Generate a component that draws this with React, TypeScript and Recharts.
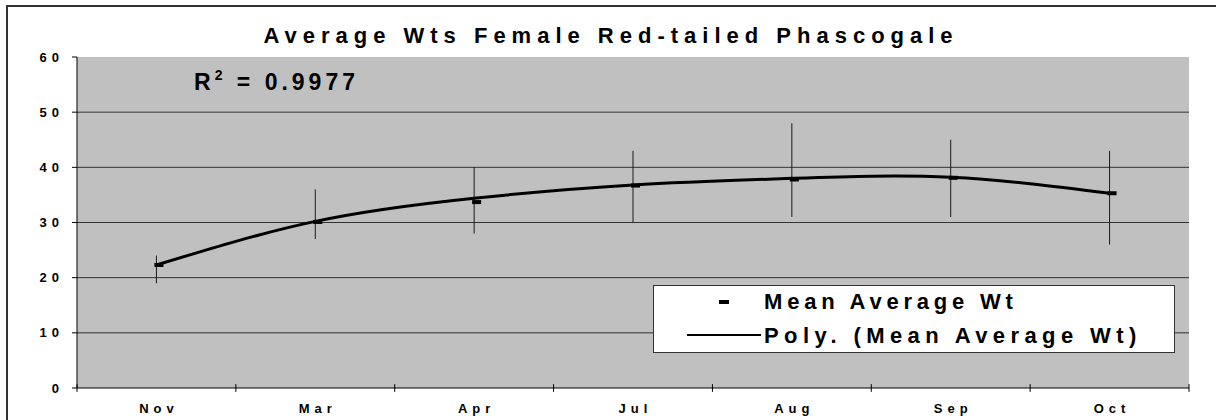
import React from 'react';
import { LineChart, Line, XAxis, YAxis, CartesianGrid, ErrorBar, ReferenceLine } from 'recharts';

const MONTHS = ['Nov', 'Mar', 'Apr', 'Jul', 'Aug', 'Sep', 'Oct'];
const MEAN_WT = [22.3, 30.1, 33.7, 36.7, 37.8, 38.1, 35.3];
const WT_LOW = [19, 27, 28, 30, 31, 31, 26];
const WT_HIGH = [24, 36, 40, 43, 48, 45, 43];
const POLY_FIT = [22.3, 30.2, 34.4, 36.8, 38.0, 38.2, 35.3];
const Y_TICKS = [0, 10, 20, 30, 40, 50, 60];
const GRID_VALUES = [10, 20, 30, 40, 50];

const FONT = '"Liberation Sans", Arial, sans-serif';

const chartData = MONTHS.map((m, i) => ({
  x: i + 0.5,
  month: m,
  mean: MEAN_WT[i],
  err: [MEAN_WT[i] - WT_LOW[i], WT_HIGH[i] - MEAN_WT[i]],
  poly: POLY_FIT[i],
}));

const labelTicks = MONTHS.map((_, i) => i + 0.5);
const boundaries = [0, 1, 2, 3, 4, 5, 6, 7];

const XTick = (props: any) => {
  const { x, y, payload } = props;
  const label = MONTHS[Math.floor(payload.value)] ?? '';
  return (
    <text x={x + 2.5} y={y + 25} textAnchor="middle" fontFamily={FONT} fontSize={13} fontWeight={700} fill="#000" style={{ letterSpacing: 5 }}>
      {label}
    </text>
  );
};

const YTick = (props: any) => {
  const { x, y, payload } = props;
  return (
    <text x={x} y={y + 4.5} textAnchor="end" fontFamily={FONT} fontSize={13} fontWeight={700} fill="#000" style={{ letterSpacing: 5 }}>
      {payload.value}
    </text>
  );
};

const DashDot = (props: any) => {
  const { cx, cy, index } = props;
  if (cx == null || cy == null) return null;
  return <rect key={`d-${index}`} x={cx - 2} y={cy - 2} width={9} height={4} fill="#000" />;
};

const App: React.FC = () => {
  return (
    <div style={{ position: 'fixed', left: 0, top: 0, width: 1216, height: 420, background: '#fff', overflow: 'hidden' }}>
      <div style={{ position: 'absolute', left: 6, top: 5, width: 1240, height: 440, border: '2px solid #333', boxSizing: 'border-box' }} />
      <div style={{ position: 'absolute', left: 0, top: 0 }}>
        <LineChart width={1216} height={420} data={chartData} margin={{ top: 57, right: 27, left: 0, bottom: 0 }}>
          <CartesianGrid vertical={false} horizontalValues={GRID_VALUES} stroke="#333" strokeWidth={1} fill="#c0c0c0" fillOpacity={1} />
          <XAxis
            type="number"
            dataKey="x"
            domain={[0, 7]}
            ticks={labelTicks}
            interval={0}
            height={32}
            tickLine={false}
            tickSize={0}
            tickMargin={0}
            axisLine={{ stroke: '#000', strokeWidth: 1 }}
            tick={<XTick />}
          />
          <YAxis
            type="number"
            domain={[0, 60]}
            ticks={Y_TICKS}
            interval={0}
            width={77}
            tickSize={5}
            tickMargin={8}
            tickLine={{ stroke: '#000' }}
            axisLine={{ stroke: '#000', strokeWidth: 1 }}
            tick={<YTick />}
          />
          {boundaries.map((b) => (
            <ReferenceLine
              key={`b-${b}`}
              segment={[{ x: b, y: 0.7 }, { x: b, y: -0.7 }]}
              stroke="#000"
              strokeWidth={1}
              ifOverflow="visible"
            />
          ))}
          <Line
            dataKey="mean"
            stroke="none"
            dot={<DashDot />}
            activeDot={false}
            isAnimationActive={false}
          >
            <ErrorBar dataKey="err" width={0} stroke="#1a1a1a" strokeWidth={1} direction="y" />
          </Line>
          <Line
            dataKey="poly"
            type="natural"
            stroke="#000"
            strokeWidth={3}
            dot={false}
            activeDot={false}
            isAnimationActive={false}
          />
        </LineChart>
      </div>
      <svg width={1216} height={420} style={{ position: 'absolute', left: 0, top: 0, pointerEvents: 'none' }}>
        <text x={611} y={43} textAnchor="middle" fontFamily={FONT} fontSize={22} fontWeight={700} fill="#000" style={{ letterSpacing: 6 }}>
          Average Wts Female Red-tailed Phascogale
        </text>
        <text x={194} y={90} fontFamily={FONT} fontSize={23} fontWeight={700} fill="#000" style={{ letterSpacing: 4 }}>
          R
          <tspan fontSize={14} dy={-10}>2</tspan>
          <tspan fontSize={23} dy={10}> = 0.9977</tspan>
        </text>
        <rect x={653.5} y={285.5} width={521} height={67} fill="#fff" stroke="#333" strokeWidth={1} />
        <rect x={719} y={300} width={10} height={4} fill="#000" />
        <text x={764} y={309} fontFamily={FONT} fontSize={22} fontWeight={700} fill="#000" style={{ letterSpacing: 4.8 }}>
          Mean Average Wt
        </text>
        <line x1={687} x2={761} y1={335} y2={335} stroke="#000" strokeWidth={2} />
        <text x={764} y={343} fontFamily={FONT} fontSize={22} fontWeight={700} fill="#000" style={{ letterSpacing: 5.4 }}>
          Poly. (Mean Average Wt)
        </text>
      </svg>
    </div>
  );
};

export default App;
